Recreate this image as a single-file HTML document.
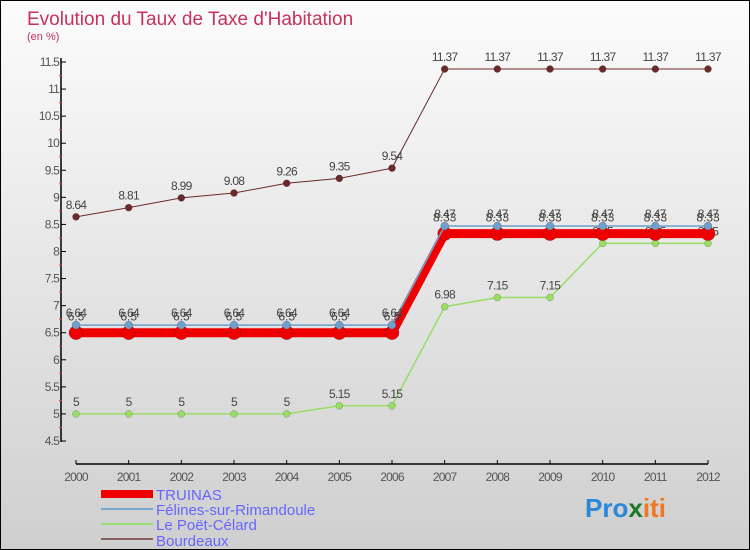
<!DOCTYPE html>
<html><head><meta charset="utf-8"><style>
body{margin:0}
#c{width:750px;height:550px;position:relative;box-sizing:border-box;border:1px solid #000;background:linear-gradient(#fcfcfc,#cfcfcf);overflow:hidden;font-family:"Liberation Sans",sans-serif}
svg text{font-family:"Liberation Sans",sans-serif}
</style></head><body>
<div id="c">
<svg id="s" width="750" height="550">
<text x="26" y="24" font-size="19" fill="#c8305e">Evolution du Taux de Taxe d'Habitation</text>
<text x="26" y="39" font-size="11" fill="#c8305e">(en %)</text>
<g id="g"></g>
<g>
<rect x="100" y="489" width="52" height="8" fill="#e00"/>
<line x1="100" y1="508" x2="152" y2="508" stroke="#7aa7cc" stroke-width="2"/>
<line x1="100" y1="523" x2="152" y2="523" stroke="#99dd77" stroke-width="2"/>
<line x1="100" y1="538" x2="152" y2="538" stroke="#886060" stroke-width="2"/>
<text x="155" y="499" font-size="15" fill="#6666ff">TRUINAS</text>
<text x="155" y="514" font-size="15" fill="#6666ff">Félines-sur-Rimandoule</text>
<text x="155" y="529" font-size="15" fill="#6666ff">Le Poët-Célard</text>
<text x="155" y="545" font-size="15" fill="#6666ff">Bourdeaux</text>
</g>
<text x="584" y="516" font-size="26" font-weight="bold"><tspan fill="#2a88d8">Pro</tspan><tspan fill="#1a7a2a">x</tspan><tspan fill="#f07820">iti</tspan></text>
</svg>
</div>
<script>
const years=[2000,2001,2002,2003,2004,2005,2006,2007,2008,2009,2010,2011,2012];
const truinas=[6.5,6.5,6.5,6.5,6.5,6.5,6.5,8.33,8.33,8.33,8.33,8.33,8.33];
const felines=[6.64,6.64,6.64,6.64,6.64,6.64,6.64,8.47,8.47,8.47,8.47,8.47,8.47];
const lepoet=[5,5,5,5,5,5.15,5.15,6.98,7.15,7.15,8.15,8.15,8.15];
const bourdeaux=[8.64,8.81,8.99,9.08,9.26,9.35,9.54,11.37,11.37,11.37,11.37,11.37,11.37];
const yTicks=[4.5,5,5.5,6,6.5,7,7.5,8,8.5,9,9.5,10,10.5,11,11.5];
const NS="http://www.w3.org/2000/svg",g=document.getElementById('g');
const X=i=>75+i*(707-75)/(years.length-1);
const Y=v=>440-(v-4.5)*(440-61)/7;
function el(t,a,p){const e=document.createElementNS(NS,t);for(const k in a)e.setAttribute(k,a[k]);(p||g).appendChild(e);return e;}
let ax=el('line',{x1:60,y1:57,x2:60,y2:441,stroke:'#000','stroke-width':1.5});


let bx=el('line',{x1:75,y1:463,x2:707,y2:463,stroke:'#000','stroke-width':1.5});


yTicks.forEach(v=>{el('line',{x1:60,y1:Y(v),x2:65,y2:Y(v),stroke:'#000'});
if(v<11.5)el('line',{x1:58,y1:Y(v+0.25),x2:61,y2:Y(v+0.25),stroke:'#e33'});
const t=el('text',{x:58,y:Y(v)+4,'font-size':12,fill:'#555','text-anchor':'end','letter-spacing':'-0.8'});t.textContent=v;

});
years.forEach((y,i)=>{el('line',{x1:X(i),y1:459,x2:X(i),y2:463,stroke:'#000'});
const t=el('text',{x:X(i),y:480,'font-size':12,fill:'#555','text-anchor':'middle','letter-spacing':'-0.8'});t.textContent=y;

});
function series(d,name,color,w,r,lab){
const p=el('polyline',{points:d.map((v,i)=>X(i)+','+Y(v)).join(' '),fill:'none',stroke:color,'stroke-width':w});


d.forEach((v,i)=>{const c=el('circle',{cx:X(i),cy:Y(v),r:r,fill:color,stroke:'rgba(0,0,0,0.3)','stroke-width':0.5});


if(lab){const t=el('text',{x:X(i),y:Y(v)-8,'font-size':12,fill:'#444','text-anchor':'middle','letter-spacing':'-0.7'});t.textContent=v;

}});}
series(bourdeaux,'bourdeaux','#6b2a2a',1,3.5,true);
series(lepoet,'le-poet','#99dd66',1.5,3.5,true);
series(truinas,'truinas','#ee0000',9,7,false);
series(felines,'felines','#6fa0cc',1.5,4,true);
truinas.forEach((v,i)=>{const t=el('text',{x:X(i),y:Y(v)-12,'font-size':12,fill:'#444','text-anchor':'middle'});t.textContent=v;

});
</script>
</body></html>
